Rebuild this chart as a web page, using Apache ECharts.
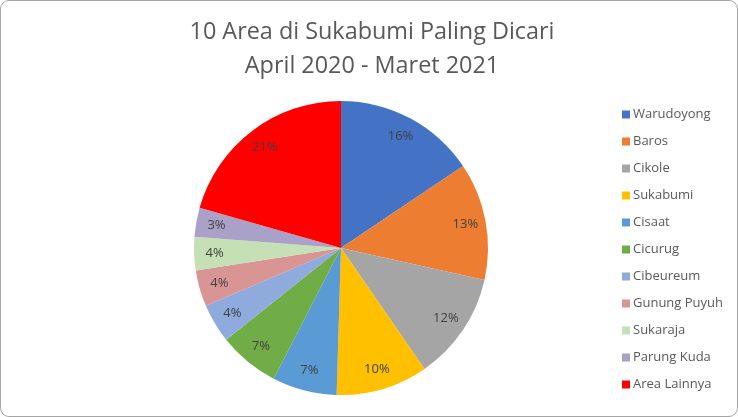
<!DOCTYPE html>
<html><head><meta charset="utf-8">
<script src="https://cdn.jsdelivr.net/npm/echarts@6/dist/echarts.min.js"></script>
<style>
html,body{margin:0;padding:0;background:#fff;}
#c{position:absolute;left:0;top:0;width:736px;height:415px;border:1px solid #a6a6a6;border-radius:9px;overflow:hidden;}
</style></head>
<body><div id="c"></div>
<script>
const titleLines = ['10 Area di Sukabumi Paling Dicari', 'April 2020 - Maret 2021'];
const categories = ['Warudoyong','Baros','Cikole','Sukabumi','Cisaat','Cicurug','Cibeureum','Gunung Puyuh','Sukaraja','Parung Kuda','Area Lainnya'];
const values = [15.6, 12.9, 11.9, 10.1, 7.1, 6.7, 4.3, 4.0, 3.65, 3.2, 20.6];
const colors = ['#4472c4','#ed7d31','#a5a5a5','#ffc000','#5b9bd5','#70ad47','#8faadc','#d99594','#c5e0b4','#a9a1c8','#ff0000'];

const chart = echarts.init(document.getElementById('c'));
const data = categories.map((n,i)=>({name:n, value:values[i], itemStyle:{color:colors[i]}}));
chart.setOption({
  animation:false,
  title:{text:titleLines.join('\n'), left:366, top:9, textAlign:'center',
    textStyle:{color:'#595959', fontSize:23.4, fontWeight:'normal', fontFamily:'Open Sans', lineHeight:34}},
  legend:{orient:'vertical', left:616, top:102, itemWidth:8, itemHeight:8, itemGap:14, icon:'rect',
    data:categories,
    textStyle:{color:'#595959', fontSize:13, fontFamily:'Open Sans', padding:[0,0,0,-2]}},
  series:[
    {type:'pie', center:[340,247], radius:[0,147], startAngle:90, clockwise:true,
     data:data, label:{show:false}, labelLine:{show:false}, silent:true},
    {type:'pie', center:[340,247], radius:[100,147], startAngle:90, clockwise:true,
     data:categories.map((n,i)=>({name:n, value:values[i], itemStyle:{color:'rgba(0,0,0,0)'}})),
     silent:true, legendHoverLink:false,
     label:{show:true, position:'inside', formatter:p=>Math.round(p.percent)+'%',
       color:'#404040', fontSize:13, fontFamily:'Open Sans'},
     labelLine:{show:false}}
  ]
});
</script></body></html>
